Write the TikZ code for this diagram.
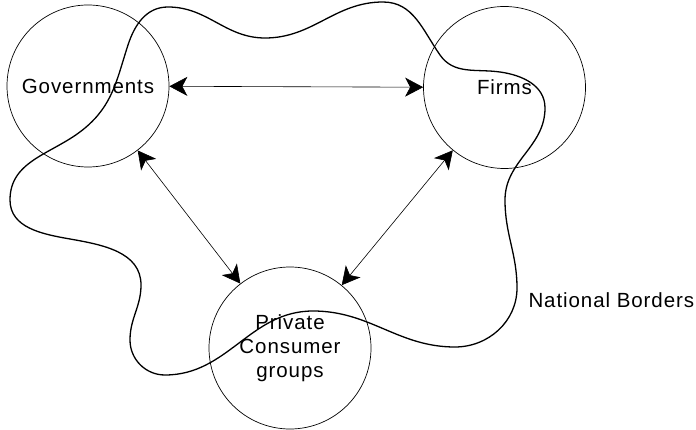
\documentclass[tikz,border=0pt]{standalone}
\usepackage{fontspec}
\setmainfont{Liberation Sans}[LetterSpace=4.5]
\usetikzlibrary{arrows.meta}
\tikzset{
  party/.style={draw, circle, line width=0.7pt, minimum size=162pt, inner sep=0pt, align=center,
    font=\fontsize{20.5}{24}\selectfont},
  link/.style={<->, line width=0.6pt},
  border/.style={line width=1.3pt}
}
\begin{document}
\begin{tikzpicture}[x=1pt, y=-1pt, >={Stealth[length=18pt,width=19pt,inset=5pt]}]
    \useasboundingbox (0,0) rectangle (696,430);
    \node[party] (gov) at (88,86) {Governments};
    \node[party] (firms) at (504.5,87.5) {Firms};
    \node[party] (priv) at (290,348) {Private\\Consumer\\groups};

    \draw[link] (gov) -- (firms);
    \draw[link] (gov) -- (priv);
    \draw[link] (firms) -- (priv);

    % national borders
    \draw[border] (168,7) to[out=0,in=180] (265,38) to[out=0,in=180] (383,2)
        to[out=0,in=125] (440,55) to[out=-55,in=172] (500,72)
        to[out=-8,in=90] (545,108) to[out=-90,in=90] (505,200)
        to[out=-90,in=90] (517,288) to[out=-90,in=0] (455,347)
        to[out=180,in=0] (313,311) to[out=180,in=0] (165,375)
        to[out=180,in=-90] (130,340) to[out=90,in=-90] (141,285)
        to[out=90,in=-10] (70,239) to[out=170,in=-90] (10,200)
        to[out=90,in=220] (85,128) to[out=40,in=252] (128,45)
        to[out=72,in=180] cycle;
    \node[anchor=west, font=\fontsize{20.5}{24}\selectfont] (nb) at (525,300) {National Borders};
\end{tikzpicture}
\end{document}
